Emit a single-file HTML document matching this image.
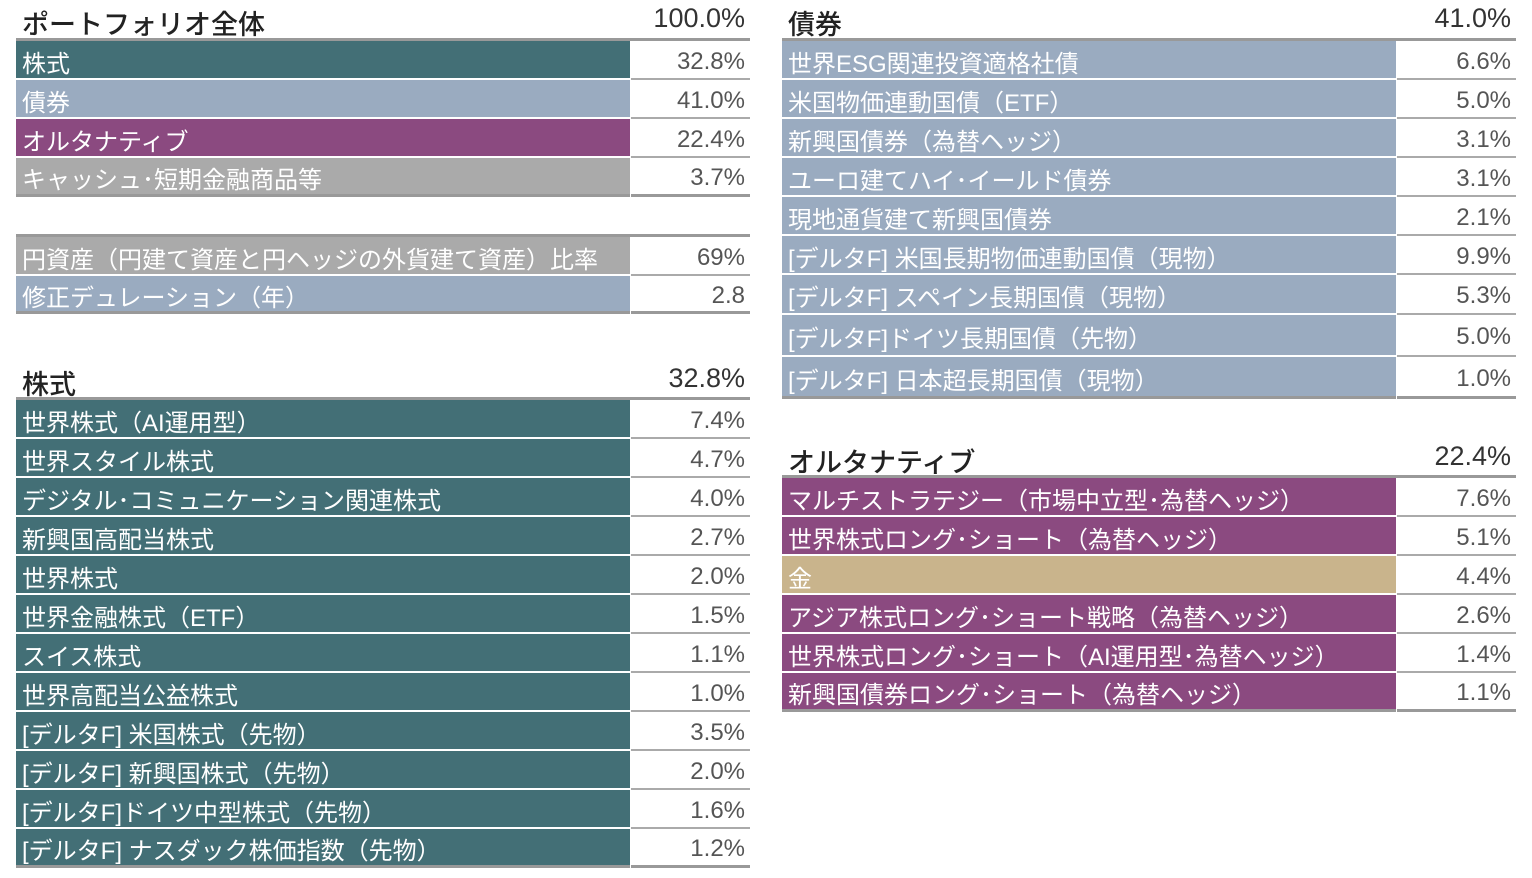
<!DOCTYPE html>
<html><head><meta charset="utf-8">
<style>
body{margin:0;width:1532px;height:878px;background:#fff;position:relative;overflow:hidden;font-family:"Liberation Sans","Noto Sans CJK JP",sans-serif;}
.h{position:absolute;font-size:27px;color:#222;font-weight:500;}
.hv{position:absolute;font-size:27px;color:#333;text-align:right;width:200px;}
.lab{position:absolute;color:#fff;font-size:24px;box-sizing:border-box;padding-left:6px;padding-top:3px;display:flex;align-items:center;white-space:nowrap;border-bottom:2px solid #fff;}
.val{position:absolute;color:#555;font-size:24px;text-align:right;box-sizing:border-box;padding-right:5px;padding-top:4px;display:flex;align-items:center;justify-content:flex-end;border-bottom:2px solid #aaa;}
.line{position:absolute;height:3px;background:#999;}
</style></head><body>
<script>
const C={s:'#436f76',b:'#9aabc0',a:'#8b4a80',g:'#aaaaaa',y:'#c9b48c'};
const tables=[
 {name:'portfolio-total',x:16,top:41,title:'ポートフォリオ全体',total:'100.0%',ty:3,
  rows:[['株式','32.8%','s'],['債券','41.0%','b'],['オルタナティブ','22.4%','a'],['キャッシュ･短期金融商品等','3.7%','g']],h:[39,39,39,39]},
 {name:'yen-duration',x:16,top:237,title:'',total:'',ty:0,
  rows:[['円資産（円建て資産と円ヘッジの外貨建て資産）比率','69%','g'],['修正デュレーション（年）','2.8','b']],h:[39,38]},
 {name:'equity',x:16,top:400,title:'株式',total:'32.8%',ty:363,
  rows:[['世界株式（AI運用型）','7.4%','s'],['世界スタイル株式','4.7%','s'],['デジタル･コミュニケーション関連株式','4.0%','s'],['新興国高配当株式','2.7%','s'],['世界株式','2.0%','s'],['世界金融株式（ETF）','1.5%','s'],['スイス株式','1.1%','s'],['世界高配当公益株式','1.0%','s'],['[デルタF] 米国株式（先物）','3.5%','s'],['[デルタF] 新興国株式（先物）','2.0%','s'],['[デルタF]ドイツ中型株式（先物）','1.6%','s'],['[デルタF] ナスダック株価指数（先物）','1.2%','s']],h:[39,39,39,39,39,39,39,39,39,39,39,39]},
 {name:'bonds',x:782,top:41,title:'債券',total:'41.0%',ty:3,
  rows:[['世界ESG関連投資適格社債','6.6%','b'],['米国物価連動国債（ETF）','5.0%','b'],['新興国債券（為替ヘッジ）','3.1%','b'],['ユーロ建てハイ･イールド債券','3.1%','b'],['現地通貨建て新興国債券','2.1%','b'],['[デルタF] 米国長期物価連動国債（現物）','9.9%','b'],['[デルタF] スペイン長期国債（現物）','5.3%','b'],['[デルタF]ドイツ長期国債（先物）','5.0%','b'],['[デルタF] 日本超長期国債（現物）','1.0%','b']],h:[39,39,39,39,39,39,40,42,42]},
 {name:'alternatives',x:782,top:478,title:'オルタナティブ',total:'22.4%',ty:441,
  rows:[['マルチストラテジー（市場中立型･為替ヘッジ）','7.6%','a'],['世界株式ロング･ショート（為替ヘッジ）','5.1%','a'],['金','4.4%','y'],['アジア株式ロング･ショート戦略（為替ヘッジ）','2.6%','a'],['世界株式ロング･ショート（AI運用型･為替ヘッジ）','1.4%','a'],['新興国債券ロング･ショート（為替ヘッジ）','1.1%','a']],h:[39,39,39,39,39,39]}
];
tables.forEach(t=>{
  if(t.title){
    const h=document.createElement('div');h.className='h';h.style.left=(t.x+6)+'px';h.style.top=t.ty+'px';h.textContent=t.title;
    
    
    document.body.appendChild(h);
    const v=document.createElement('div');v.className='hv';v.style.left=(t.x+529)+'px';v.style.top=t.ty+'px';v.textContent=t.total;
    
    
    document.body.appendChild(v);
  }
  const ln=document.createElement('div');ln.className='line';ln.style.left=t.x+'px';ln.style.width='734px';ln.style.top=(t.top-3)+'px';
  
  
  document.body.appendChild(ln);
  let y=t.top;
  t.rows.forEach((r,i)=>{
    const hh=t.h[i];
    const l=document.createElement('div');l.className='lab';
    l.style.cssText+=`left:${t.x}px;top:${y}px;width:614px;height:${hh}px;background:${C[r[2]]};`;
    l.textContent=r[0];
    
    
    document.body.appendChild(l);
    const v=document.createElement('div');v.className='val';
    v.style.cssText+=`left:${t.x+615}px;top:${y}px;width:119px;height:${hh}px;`;
    if(i===t.rows.length-1)v.style.borderBottom='3px solid #999';
    v.textContent=r[1];
    
    
    document.body.appendChild(v);
    if(i===t.rows.length-1)l.style.borderBottom='3px solid #999';
    y+=hh;
  });
});
</script>
</body></html>
